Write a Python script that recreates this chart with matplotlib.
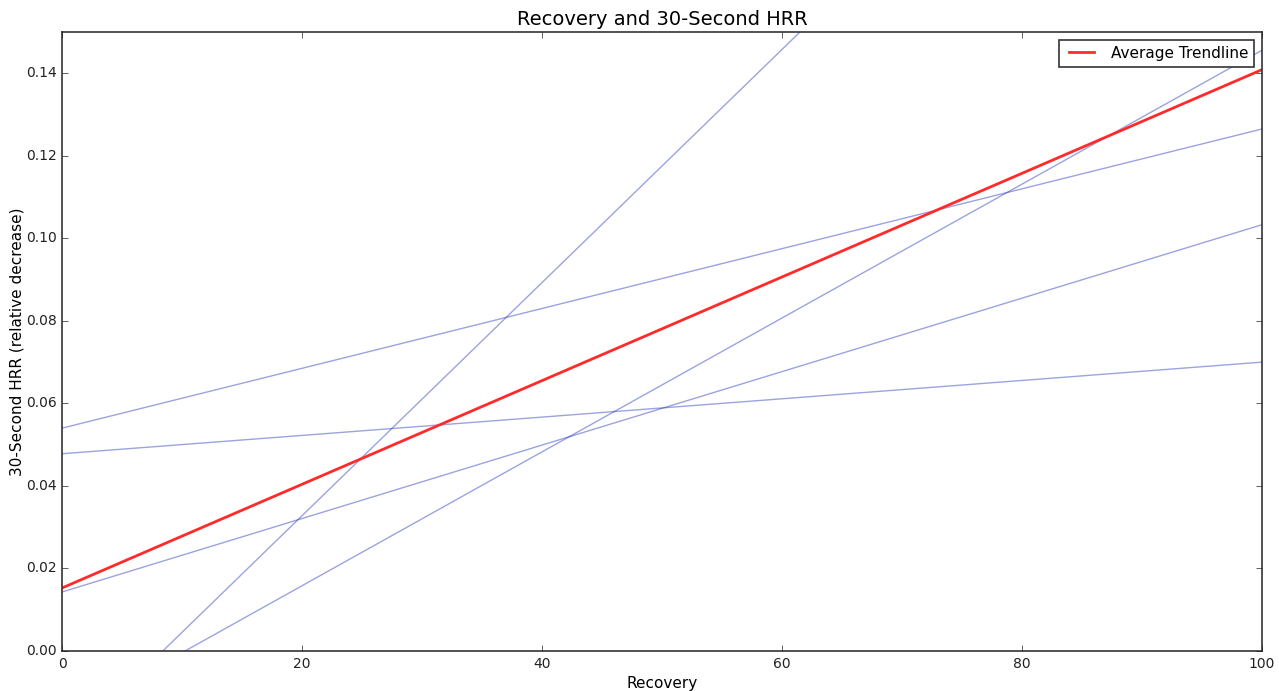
import matplotlib
matplotlib.use("Agg")
import matplotlib.pyplot as plt
import numpy as np

# per-subject trendlines (y = slope * x + intercept)
slopes = [0.002825, 0.000725, 0.000222, 0.000890, 0.001622]
intercepts = [-0.02373, 0.0540, 0.0478, 0.0143, -0.01663]

avg_slope = 0.001256
avg_intercept = 0.01527

x_range = np.array([0, 100])

plt.style.use("classic")
fig = plt.figure(figsize=(12.79, 6.91), dpi=100)
ax = fig.add_axes([62 / 1279, 40 / 691, 1200 / 1279, 619 / 691])

for m, b in zip(slopes, intercepts):
    ax.plot(x_range, m * x_range + b, color="#2233bb", alpha=0.45, linewidth=1)

ax.plot(x_range, avg_slope * x_range + avg_intercept, color="#ff2a2a",
        linewidth=2, label="Average Trendline")

ax.set_xlim(0, 100)
ax.set_ylim(0, 0.15)
ax.set_yticks(np.arange(0, 0.15, 0.02))
ax.tick_params(labelsize=10, colors="#222222")
for s in ax.spines.values():
    s.set_color("#333333")
    s.set_linewidth(1.2)
ax.set_title("Recovery and 30-Second HRR", fontsize=14)
ax.set_xlabel("Recovery", fontsize=11, labelpad=4)
ax.set_ylabel("30-Second HRR (relative decrease)", fontsize=11)
ax.yaxis.set_label_coords(-0.031, 0.5)
leg = ax.legend(loc="upper right", fontsize=11, borderaxespad=0.5,
                handlelength=2.2)
leg.get_frame().set_edgecolor("#333333")
leg.get_frame().set_linewidth(1.2)

fig.savefig("out.png", dpi=100)
